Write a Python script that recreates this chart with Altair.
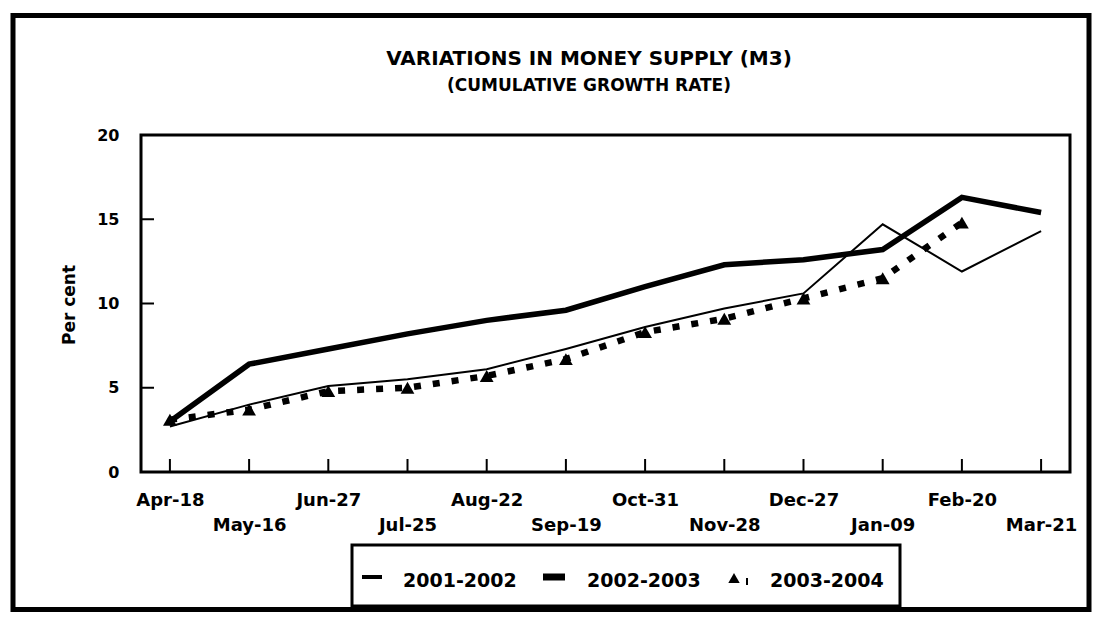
import json
import altair as alt
import pandas as pd

# ---------------- data ----------------
months = ["Apr-18", "May-16", "Jun-27", "Jul-25", "Aug-22", "Sep-19",
          "Oct-31", "Nov-28", "Dec-27", "Jan-09", "Feb-20", "Mar-21"]
s_2001_2002 = [2.7, 4.0, 5.1, 5.5, 6.1, 7.3, 8.6, 9.7, 10.6, 14.7, 11.9, 14.3]
s_2002_2003 = [3.0, 6.4, 7.3, 8.2, 9.0, 9.6, 11.0, 12.3, 12.6, 13.2, 16.3, 15.4]
s_2003_2004 = [3.1, 3.7, 4.8, 5.0, 5.7, 6.7, 8.3, 9.1, 10.3, 11.5, 14.8, None]
series_names = ["2001-2002", "2002-2003", "2003-2004"]
y_tick_values = [0, 5, 10, 15, 20]
inner_y_ticks = [5, 10, 15]
title_text = "VARIATIONS IN MONEY SUPPLY (M3)"
subtitle_text = "(CUMULATIVE GROWTH RATE)"
y_title = "Per cent"

# ---------------- tables ----------------
rows = []
for name, vals in zip(series_names, [s_2001_2002, s_2002_2003, s_2003_2004]):
    for m, v in zip(months, vals):
        if v is not None:
            rows.append({"month": m, "value": v, "series": name})
df = pd.DataFrame(rows)
df_months = pd.DataFrame({"month": months})
df_yt = pd.DataFrame({"value": inner_y_ticks})
one = pd.DataFrame({"k": [0]})

FONT = "DejaVu Sans"
W, H = 929, 337

second_row = json.dumps(months[1::2])
x_axis = alt.Axis(
    title=None, domain=False, ticks=False, tickSize=0, labelAngle=0,
    labelFont=FONT, labelFontSize=18, labelFontWeight="bold", labelColor="black",
    labelOverlap=False, labelBaseline="top",
    labelPadding={"condition": {"test": f"indexof({second_row}, datum.value) >= 0", "value": 44},
                  "value": 19},
)
y_axis = alt.Axis(
    title=None, domain=False, ticks=False, tickSize=0, grid=False,
    values=y_tick_values, labelFont=FONT, labelFontSize=16, labelFontWeight="bold",
    labelColor="black", labelPadding=22,
)
X = alt.X("month:N", sort=months, scale=alt.Scale(type="point", padding=0.365), axis=x_axis)
Y = alt.Y("value:Q", scale=alt.Scale(domain=[0, 20], nice=False), axis=y_axis)

base = alt.Chart(df).encode(x=X, y=Y)

l1 = base.transform_filter(alt.datum.series == series_names[0]).mark_line(
    color="black", strokeWidth=2)
l2 = base.transform_filter(alt.datum.series == series_names[1]).mark_line(
    color="black", strokeWidth=5.5)
l3 = base.transform_filter(alt.datum.series == series_names[2]).mark_line(
    color="black", strokeWidth=6.5, strokeDash=[7, 12])
p3 = base.transform_filter(alt.datum.series == series_names[2]).mark_point(
    shape="triangle-up", filled=True, size=190, color="black", opacity=1)

x_ticks = alt.Chart(df_months).mark_rule(color="black", strokeWidth=2).encode(
    x=X, y=alt.value(H), y2=alt.value(H - 13))
y_ticks = alt.Chart(df_yt).mark_rule(color="black", strokeWidth=2).encode(
    y=Y, x=alt.value(0), x2=alt.value(13))

# ---------------- decorations ----------------
frame = alt.Chart(one).mark_rect(filled=False, stroke="black", strokeWidth=5).encode(
    x=alt.value(-128), x2=alt.value(948), y=alt.value(-119.5), y2=alt.value(474.5))

title = alt.Chart(one).mark_text(font=FONT, fontSize=20, fontWeight="bold", color="black",
                                 align="center", baseline="middle").encode(
    x=alt.value(448), y=alt.value(-76), text=alt.value(title_text))
subtitle = alt.Chart(one).mark_text(font=FONT, fontSize=17, fontWeight="bold", color="black",
                                    align="center", baseline="middle").encode(
    x=alt.value(448), y=alt.value(-49), text=alt.value(subtitle_text))
ytitle = alt.Chart(one).mark_text(font=FONT, fontSize=17, fontWeight="bold", color="black",
                                  align="center", baseline="middle", angle=270).encode(
    x=alt.value(-71), y=alt.value(170), text=alt.value(y_title))

leg_box = alt.Chart(one).mark_rect(filled=False, stroke="black", strokeWidth=3).encode(
    x=alt.value(211), x2=alt.value(759), y=alt.value(410), y2=alt.value(471))
sym1 = alt.Chart(one).mark_rule(color="black", strokeWidth=4).encode(
    x=alt.value(221), x2=alt.value(241), y=alt.value(442))
sym2 = alt.Chart(one).mark_rule(color="black", strokeWidth=7).encode(
    x=alt.value(402), x2=alt.value(424), y=alt.value(442))
sym3 = alt.Chart(one).mark_point(shape="triangle-up", filled=True, size=130,
                                 color="black", opacity=1).encode(
    x=alt.value(593), y=alt.value(443))
sym3b = alt.Chart(one).mark_rule(color="black", strokeWidth=2).encode(
    x=alt.value(606), y=alt.value(443), y2=alt.value(450))
leg_text_pos = [262, 446, 629]
leg_texts = [
    alt.Chart(one).mark_text(font=FONT, fontSize=19, fontWeight="bold", color="black",
                             align="left", baseline="alphabetic").encode(
        x=alt.value(px), y=alt.value(452), text=alt.value(name))
    for px, name in zip(leg_text_pos, series_names)
]

chart = alt.layer(
    frame, title, subtitle, ytitle,
    x_ticks, y_ticks, l1, l3, p3, l2,
    leg_box, sym1, sym2, sym3, sym3b, *leg_texts,
).properties(
    width=W, height=H,
    padding={"left": 133, "top": 127, "right": 23, "bottom": 141},
    autosize=alt.AutoSizeParams(type="none"),
    background="white",
).configure_view(stroke="black", strokeWidth=3)

chart.save("out.html", embed_options={"renderer": "svg", "actions": False})
